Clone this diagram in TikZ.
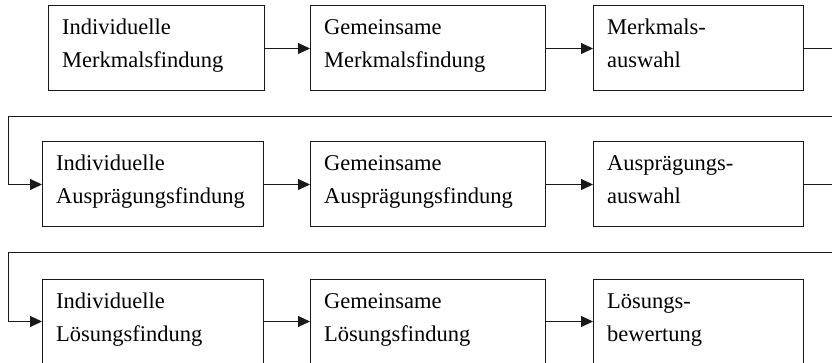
\documentclass[tikz,border=0pt]{standalone}
\usepackage{fontspec}
\setmainfont{Liberation Serif}
\usetikzlibrary{arrows.meta}
\tikzset{
  stepbox/.style={draw=black!90, line width=1pt, minimum width=#1, minimum height=85pt, anchor=north west, inner sep=0pt, outer sep=0pt},
  txt/.style={anchor=base west, inner sep=0pt, font=\fontsize{22.5}{33}\selectfont},
  flow/.style={draw=black!90, line width=1pt, -{Triangle[length=12pt,width=11pt]}},
}
\newcommand{\boxlines}[3]{%
  \node[txt] (#1l1) at ([xshift=14pt,yshift=-29pt]#1.north west) {#2};
  \node[txt] (#1l2) at ([xshift=14pt,yshift=-62pt]#1.north west) {#3};
}
\begin{document}
\begin{tikzpicture}[x=1pt,y=-1pt]
\useasboundingbox (0,0) rectangle (832,363);
\clip (0,0) rectangle (832,363);
% row 1
\node[stepbox=216pt] (b1) at (48,6) {};
\node[stepbox=235pt] (b2) at (310,6) {};
\node[stepbox=210pt] (b3) at (593,6) {};
% row 2
\node[stepbox=221pt] (b4) at (42,142) {};
\node[stepbox=235pt] (b5) at (310,142) {};
\node[stepbox=210pt] (b6) at (593,142) {};
% row 3
\node[stepbox=221pt] (b7) at (42,279) {};
\node[stepbox=235pt] (b8) at (310,279) {};
\node[stepbox=210pt] (b9) at (593,279) {};
\boxlines{b1}{Individuelle}{Merkmalsfindung}
\boxlines{b2}{Gemeinsame}{Merkmalsfindung}
\boxlines{b3}{Merkmals-}{auswahl}
\boxlines{b4}{Individuelle}{Ausprägungsfindung}
\boxlines{b5}{Gemeinsame}{Ausprägungsfindung}
\boxlines{b6}{Ausprägungs-}{auswahl}
\boxlines{b7}{Individuelle}{Lösungsfindung}
\boxlines{b8}{Gemeinsame}{Lösungsfindung}
\boxlines{b9}{Lösungs-}{bewertung}
% connectors
\draw[flow] (b1.east) -- (b2.west);
\draw[flow] (b2.east) -- (b3.west);
\draw[flow] (b4.east) -- (b5.west);
\draw[flow] (b5.east) -- (b6.west);
\draw[flow] (b7.east) -- (b8.west);
\draw[flow] (b8.east) -- (b9.west);
\coordinate (r1) at (840,117);
\coordinate (l1) at (8,117);
\coordinate (r2) at (840,253);
\coordinate (l2) at (8,253);
\draw[flow] (b3.east) -| (r1) -- (l1) |- (b4.west);
\draw[flow] (b6.east) -| (r2) -- (l2) |- (b7.west);
\end{tikzpicture}
\end{document}
